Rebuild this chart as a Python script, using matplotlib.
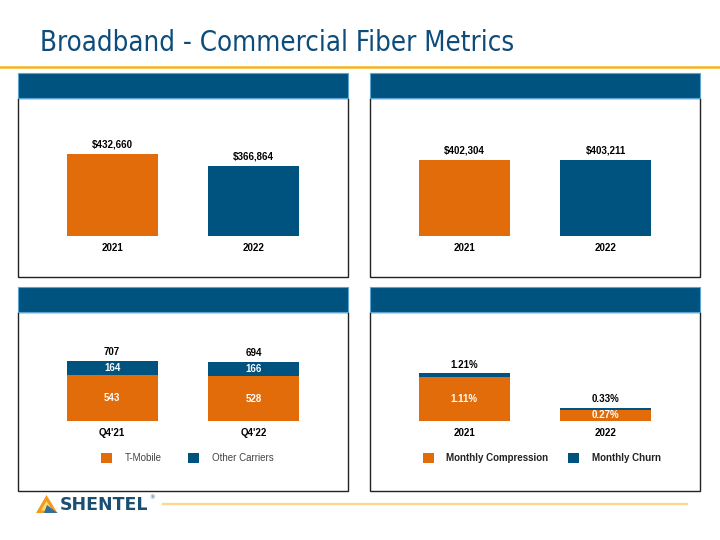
import matplotlib
matplotlib.use("Agg")
import matplotlib.pyplot as plt
from matplotlib.patches import Rectangle, Polygon
from matplotlib.lines import Line2D

W, H = 720, 540
ORANGE = '#E36C0A'
BLUE = '#00527F'
TITLE_BLUE = '#0E4C7A'
FONT = 'Liberation Sans'

# data
rev_years = ['2021', '2022']
rev_left = [432660, 366864]
rev_right = [402304, 403211]
quarters = ["Q4'21", "Q4'22"]
tmobile = [543, 528]
other_carriers = [164, 166]
churn_years = ['2021', '2022']
compression = [1.11, 0.27]
churn = [0.10, 0.06]


def fig_rect(x0, y0, x1, y1):
    # pixel box (top-left origin) -> figure fraction [l, b, w, h]
    return [x0 / W, 1 - y1 / H, (x1 - x0) / W, (y1 - y0) / H]


def panel(fig, bx0, by0, bx1, by1, base, units_per_px):
    # blue header on top, white box with thin dark border below
    hy1 = by0 + 25
    fig.patches.append(Rectangle((bx0 / W, 1 - hy1 / H), (bx1 - bx0) / W, 25 / H,
                                 transform=fig.transFigure, facecolor=BLUE,
                                 edgecolor='#5FA3D0', lw=0.8, zorder=-2))
    fig.patches.append(Rectangle((bx0 / W, 1 - by1 / H), (bx1 - bx0) / W, (by1 - hy1) / H,
                                 transform=fig.transFigure, facecolor='white',
                                 edgecolor='#222222', lw=1.0, zorder=-3))
    ax = fig.add_axes(fig_rect(bx0, hy1, bx1, by1))
    ax.patch.set_visible(False)
    ax.set_xlim(-0.665, 1.665)
    ax.set_ylim(-(by1 - base) * units_per_px, (base - hy1) * units_per_px)
    ax.axis('off')
    return ax


def label(ax, x, y, text, dy_px, color='black', weight='bold'):
    ax.annotate(text, (x, y), xytext=(0, dy_px * 0.72), textcoords='offset points',
                ha='center', va='center', fontsize=7, color=color,
                fontweight=weight, family=FONT)


def legend_item(fig, x, y, color, text, weight):
    fig.patches.append(Rectangle((x / W, 1 - (y + 5) / H), 10.7 / W, 10 / H,
                                 transform=fig.transFigure, facecolor=color, lw=0))
    fig.text((x + 23.5) / W, 1 - y / H, text, fontsize=7, family=FONT,
             fontweight=weight, color='#222222' if weight == 'bold' else '#444444',
             ha='left', va='center')


fig = plt.figure(figsize=(7.2, 5.4), dpi=100)
fig.patch.set_facecolor('white')

# title and rule
fig.text(40 / W, 1 - 43 / H, 'Broadband - Commercial Fiber Metrics', fontsize=19.8,
         color=TITLE_BLUE, family='DejaVu Sans', fontstretch='condensed',
         ha='left', va='center')
fig.add_artist(Line2D([0, 1], [1 - 67 / H] * 2, color='#F5B21B', lw=1.8,
                      transform=fig.transFigure))

x = [0, 1]
bar_w = 0.64

# top-left
ax = panel(fig, 18, 72.5, 348, 277, 235.7, 5296)
ax.bar(x, rev_left, bar_w, color=[ORANGE, BLUE])
for i, v in enumerate(rev_left):
    label(ax, i, v, f'${v:,}', 9.8)
    label(ax, i, 0, rev_years[i], -12.3)

# top-right
ax = panel(fig, 370, 72.5, 700, 277, 235.7, 5314)
ax.bar(x, rev_right, bar_w, color=[ORANGE, BLUE])
for i, v in enumerate(rev_right):
    label(ax, i, v, f'${v:,}', 9.3)
    label(ax, i, 0, rev_years[i], -12.3)

# bottom-left
ax = panel(fig, 18, 286.5, 348, 491, 420.7, 11.9)
ax.bar(x, tmobile, bar_w, color=ORANGE)
ax.bar(x, other_carriers, bar_w, bottom=tmobile, color=BLUE)
for i in x:
    tot = tmobile[i] + other_carriers[i]
    label(ax, i, tmobile[i] / 2, str(tmobile[i]), 0, color='white')
    label(ax, i, tmobile[i] + other_carriers[i] / 2, str(other_carriers[i]), 0, color='white')
    label(ax, i, tot, str(tot), 9)
    label(ax, i, 0, quarters[i], -12.3)
legend_item(fig, 101, 458, ORANGE, 'T-Mobile', 'normal')
legend_item(fig, 188, 458, BLUE, 'Other Carriers', 'normal')

# bottom-right
ax = panel(fig, 370, 286.5, 700, 491, 420.7, 0.0254)
ax.bar(x, compression, bar_w, color=ORANGE)
ax.bar(x, churn, bar_w, bottom=compression, color=BLUE)
for i in x:
    tot = compression[i] + churn[i]
    label(ax, i, compression[i] / 2, f'{compression[i]:.2f}%', 0, color='white')
    label(ax, i, tot, f'{tot:.2f}%', 8.5)
    label(ax, i, 0, churn_years[i], -12.3)
legend_item(fig, 423, 458, ORANGE, 'Monthly Compression', 'bold')
legend_item(fig, 568, 458, BLUE, 'Monthly Churn', 'bold')

# footer logo + rule
fig.patches.append(Polygon([(46.5 / W, 1 - 495 / H), (36 / W, 1 - 513 / H), (57.5 / W, 1 - 513 / H)],
                           closed=True, transform=fig.transFigure, facecolor='#F29A1F', lw=0))
fig.patches.append(Polygon([(46.5 / W, 1 - 501 / H), (41 / W, 1 - 510.5 / H), (52.5 / W, 1 - 510.5 / H)],
                           closed=True, transform=fig.transFigure, facecolor='#FCD774', lw=0))
fig.patches.append(Polygon([(47 / W, 1 - 505 / H), (44 / W, 1 - 513 / H), (57.5 / W, 1 - 513 / H)],
                           closed=True, transform=fig.transFigure, facecolor='#2F6F9F', lw=0))
fig.text(60 / W, 1 - 505 / H, 'SHENTEL', fontsize=12.5, fontweight='bold', color='#1B4F72',
         family='DejaVu Sans', ha='left', va='center')
fig.text(149 / W, 1 - 498 / H, '®', fontsize=4, color='#1B4F72', ha='left', va='center')
fig.add_artist(Line2D([163 / W, 687 / W], [1 - 504 / H] * 2, color='#FDD88A', lw=1.6,
                      transform=fig.transFigure))

fig.savefig('out.png', dpi=100)
